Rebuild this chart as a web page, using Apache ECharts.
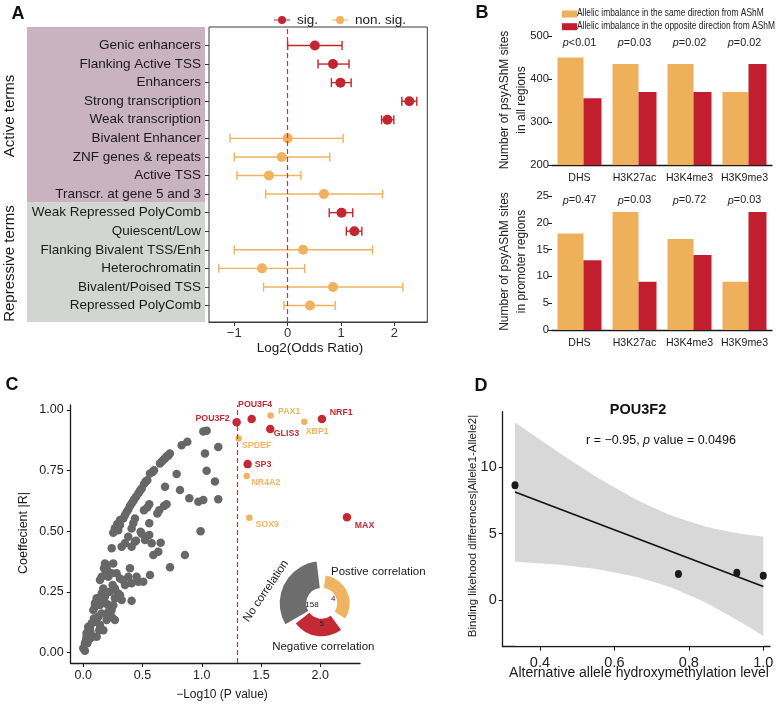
<!DOCTYPE html>
<html><head><meta charset="utf-8">
<script src="https://cdn.jsdelivr.net/npm/echarts@6/dist/echarts.min.js"></script>
<style>html,body{margin:0;padding:0;background:#fff}#c{width:777px;height:706px}</style>
</head><body><div id="c"></div>
<script>
// ---------- Panel A: chromatin state enrichment ----------
var terms = ['Genic enhancers','Flanking Active TSS','Enhancers','Strong transcription','Weak transcription',
  'Bivalent Enhancer','ZNF genes & repeats','Active TSS','Transcr. at gene 5 and 3',
  'Weak Repressed PolyComb','Quiescent/Low','Flanking Bivalent TSS/Enh','Heterochromatin','Bivalent/Poised TSS','Repressed PolyComb'];
var log2OR  = [0.51, 0.85, 0.99, 2.28, 1.87, 0.00, -0.11, -0.35, 0.68, 1.01, 1.25, 0.29, -0.48, 0.85, 0.42];
var ciLow   = [0.00, 0.57, 0.82, 2.14, 1.76, -1.08, -1.00, -0.95, -0.41, 0.78, 1.10, -1.00, -1.29, -0.45, -0.07];
var ciHigh  = [1.02, 1.15, 1.19, 2.42, 1.99, 1.04, 0.79, 0.25, 1.78, 1.22, 1.39, 1.59, 0.32, 2.16, 0.89];
var isSig   = [1,1,1,1,1,0,0,0,0,1,1,0,0,0,0];
var groupNames = ['Active terms','Repressive terms'];

// ---------- Panel B: bars ----------
var marks = ['DHS','H3K27ac','H3K4me3','H3K9me3'];
var sameAll = [450, 435, 435, 370];
var oppAll  = [355, 370, 370, 435];
var pAll    = ['<0.01','=0.03','=0.02','=0.02'];
var samePromoter = [18, 22, 17, 9];
var oppPromoter  = [13, 9, 14, 22];
var pPromoter    = ['=0.47','=0.03','=0.72','=0.03'];
var sameName = 'Allelic imbalance in the same direction from AShM';
var oppName  = 'Allelic imbalance in the opposite direction from AShM';

// ---------- Panel C: scatter ----------
var noCorrPoints = [
 [1.013,0.911],[1.041,0.915],[0.83,0.855],[0.878,0.869],[1.139,0.848],[1.027,0.821],[1.041,0.75],[1.111,0.705],
 [0.731,0.821],[0.717,0.812],[0.703,0.808],[0.689,0.8],[0.675,0.794],[0.661,0.787],[0.647,0.78],
 [0.788,0.736],[0.597,0.752],[0.585,0.745],[0.563,0.738],[0.54,0.711],
 [0.527,0.705],[0.512,0.695],[0.493,0.677],[0.478,0.667],[0.464,0.656],[0.445,0.643],[0.43,0.632],[0.422,0.625],[0.408,0.615],[0.394,0.604],
 [0.69,0.684],[0.816,0.67],[0.895,0.636],[0.971,0.622],[1.013,0.629],[1.139,0.632],
 [0.703,0.612],[0.681,0.604],[0.557,0.612],[0.54,0.598],[0.512,0.587],[0.641,0.587],[0.625,0.574],
 [0.38,0.59],[0.366,0.58],[0.352,0.567],[0.338,0.553],[0.31,0.526],[0.295,0.505],
 [0.436,0.553],[0.422,0.533],[0.408,0.512],[0.557,0.533],[0.99,0.5],[0.484,0.498],
 [0.31,0.547],[0.287,0.53],[0.267,0.513],[0.253,0.494],[0.445,0.461],[0.557,0.485],[0.577,0.451],[0.653,0.453],
 [0.38,0.478],[0.352,0.451],[0.324,0.437],[0.24,0.43],[0.493,0.49],
 [0.408,0.437],[0.436,0.457],[0.521,0.464],[0.633,0.416],[0.591,0.403],[0.858,0.403],[0.732,0.352],
 [0.183,0.368],[0.253,0.368],[0.197,0.348],[0.155,0.313],[0.211,0.313],[0.239,0.327],[0.281,0.327],[0.31,0.306],
 [0.338,0.299],[0.38,0.313],[0.394,0.348],[0.45,0.313],[0.464,0.292],[0.506,0.292],[0.563,0.32],[0.408,0.286],
 [0.169,0.265],[0.155,0.244],[0.183,0.231],[0.225,0.251],[0.248,0.279],[0.267,0.265],[0.295,0.244],[0.324,0.217],
 [0.408,0.214],[0.267,0.224],[0.169,0.21],[0.203,0.2],[0.225,0.189],[0.211,0.169],[0.239,0.176],[0.253,0.196],
 [0.267,0.135],[0.197,0.135],[0.169,0.093],[0.099,0.189],[0.085,0.176],[0.127,0.148],[0.113,0.128],[0.09,0.141],
 [0.071,0.121],[0.057,0.107],[0.042,0.093],[0.062,0.08],[0.079,0.066],[0.028,0.066],[0.042,0.052],[0.014,0.039],
 [0.0,0.018],[0.014,0.008],[0.135,0.093],[0.141,0.114],[0.113,0.066],[0.155,0.162],[0.31,0.237],[0.352,0.279],
 [0.191,0.327],[0.057,0.093],[0.028,0.08],[0.197,0.361],[0.175,0.348],[0.141,0.3],[0.113,0.224],[0.099,0.204],
 [0.141,0.197],[0.24,0.148],[0.211,0.155],[0.057,0.059],[0.023,0.052],[0.034,0.039],[0.042,0.107]
];
var tfNames = ['POU3F2','POU3F4','PAX1','NRF1','GLIS3','XBP1','SPDEF','SP3','NR4A2','SOX9','MAX'];
var tfLogP  = [1.294, 1.421, 1.581, 2.014, 1.578, 1.865, 1.311, 1.387, 1.379, 1.401, 2.225];
var tfAbsR  = [0.950, 0.963, 0.977, 0.963, 0.922, 0.952, 0.883, 0.777, 0.728, 0.556, 0.558];
var tfNeg   = [1, 1, 0, 1, 1, 0, 0, 1, 0, 0, 1];
var pCut = 1.301; // -log10(0.05)
var corrCats = ['No correlation','Postive correlation','Negative correlation'];
var corrCounts = [158, 4, 5];

// ---------- Panel D: regression ----------
var hmLevel = [0.333, 0.772, 0.929, 1.0];
var bindDiff = [8.65, 1.95, 2.05, 1.82];
var fitX = [0.333, 1.0];
var fitY = [8.13, 1.02];
var bandX  = [0.333, 0.4, 0.5, 0.6, 0.7, 0.8, 0.9, 1.0];
var bandLo = [2.88, 2.76, 2.50, 2.08, 1.41, 0.37, -1.04, -2.72];
var bandHi = [13.40, 12.10, 10.22, 8.50, 7.03, 5.93, 5.20, 4.78];

// ---------- styling ----------
var RED = '#c2272f', ORANGE = '#f0b25e';
var BRED = '#c21f2e', BORANGE = '#efb05c';
var CRED = '#c42a35', CORANGE = '#eeb461';
var FONT = "'Liberation Sans', Arial, Helvetica, sans-serif";
var INK = '#1a1a1a';
var DYMIN = -3.52;

var tfLabelPos = {
  POU3F2:[-2.7,1,'right'], POU3F4:[-9.4,-10,'left'], PAX1:[10.6,-1,'left'], NRF1:[12,-1.7,'left'],
  GLIS3:[7.7,9.3,'left'], XBP1:[4.7,13,'left'], SPDEF:[6.6,10.4,'left'], SP3:[11.3,4.3,'left'],
  NR4A2:[8,10.3,'left'], SOX9:[9.4,10.3,'left'], MAX:[12,12.4,'left']
};

function tfData(neg) {
  var out = [];
  for (var i = 0; i < tfNames.length; i++) {
    if (tfNeg[i] !== neg) continue;
    var lp = tfLabelPos[tfNames[i]];
    out.push({name: tfNames[i], value: [tfLogP[i], tfAbsR[i]],
      label: {show: true, formatter: '{b}', position: [lp[0], lp[1]], align: lp[2], verticalAlign: 'middle',
        color: neg ? CRED : CORANGE, fontSize: 8.8, fontWeight: 'bold', fontFamily: FONT}});
  }
  return out;
}

var blackAxis = {onZero: false, lineStyle: {color: INK, width: 1.3}};
function pLabel(v) { return '{i|p}{n|' + v + '}'; }
var pRich = {i: {fontStyle: 'italic', fontSize: 10.8, color: '#222', fontFamily: FONT}, n: {fontSize: 10.8, color: '#222', fontFamily: FONT}};

var chart = echarts.init(document.getElementById('c'), null, {width: 777, height: 706});

var option = {
  animation: false,
  textStyle: {fontFamily: FONT},
  grid: [
    {left: 209, top: 36.2, width: 218.3, height: 278.6, outerBoundsMode: 'none'},
    {left: 209, top: 27, width: 218.3, height: 295, show: true, borderColor: '#3a3a3a', borderWidth: 1, outerBoundsMode: 'none'},
    {left: 552, top: 36, width: 220, height: 129, outerBoundsMode: 'none'},
    {left: 552, top: 196, width: 220, height: 134, outerBoundsMode: 'none'},
    {left: 70.7, top: 410, width: 289.3, height: 242.7, outerBoundsMode: 'none'},
    {left: 70.7, top: 405, width: 289.3, height: 258, outerBoundsMode: 'none'},
    {left: 502.7, top: 411.7, width: 267.3, height: 235, outerBoundsMode: 'none'}
  ],
  legend: [
    {data: ['sig.', 'non. sig.'], left: 269, top: 8, itemWidth: 20, itemHeight: 8, itemGap: 14,
     icon: 'path://M0,9 L40,9 L40,11 L0,11 Z M20,0 A10,10 0 1,1 19.99,0 Z',
     textStyle: {fontSize: 13.5, color: '#222', fontFamily: FONT}},
    {data: [sameName, oppName], left: 557, top: 5.5, orient: 'vertical', icon: 'rect',
     itemWidth: 15, itemHeight: 7, itemGap: 5.7, formatter: function () { return ''; },
     textStyle: {fontSize: 1}}
  ],
  xAxis: [
    {gridIndex: 0, type: 'value', min: -1.473, max: 2.617, show: false},
    {gridIndex: 1, type: 'value', min: -1.473, max: 2.617, splitNumber: 4,
     axisLine: {show: true, onZero: false, lineStyle: {color: '#3a3a3a', width: 1}}, axisTick: {show: true, length: 4, lineStyle: {color: '#3a3a3a'}},
     axisLabel: {showMinLabel: false, showMaxLabel: false, fontSize: 13, color: '#333', margin: 5,
       formatter: function (v) { return v < 0 ? '\u2212' + Math.abs(v) : String(v); }},
     splitLine: {show: false}},
    {gridIndex: 2, type: 'category', data: marks, axisLine: blackAxis, axisTick: {show: false},
     axisLabel: {interval: 0, fontSize: 10.6, color: INK, margin: 7.5}},
    {gridIndex: 2, type: 'category', data: pAll, position: 'top', axisLine: {show: false}, axisTick: {show: false},
     axisLabel: {interval: 0, inside: true, margin: 1.5, formatter: pLabel, rich: pRich}},
    {gridIndex: 3, type: 'category', data: marks, axisLine: blackAxis, axisTick: {show: false},
     axisLabel: {interval: 0, fontSize: 10.6, color: INK, margin: 7.5}},
    {gridIndex: 3, type: 'category', data: pPromoter, position: 'top', axisLine: {show: false}, axisTick: {show: false},
     axisLabel: {interval: 0, inside: true, margin: -1, formatter: pLabel, rich: pRich}},
    {gridIndex: 4, type: 'value', min: -0.106, max: 2.335, show: false},
    {gridIndex: 5, type: 'value', min: -0.106, max: 2.335, splitNumber: 5,
     axisLine: blackAxis, axisTick: {show: true, length: 4, lineStyle: {color: INK}},
     axisLabel: {showMinLabel: false, showMaxLabel: false, fontSize: 12.5, color: '#222', margin: 6,
       formatter: function (v) { return v.toFixed(1); }}, splitLine: {show: false}},
    {gridIndex: 6, type: 'value', min: 0.3, max: 1.018, splitNumber: 4,
     axisLine: blackAxis, axisTick: {show: true, length: 4, lineStyle: {color: INK}},
     axisLabel: {showMinLabel: false, showMaxLabel: false, fontSize: 14.5, color: '#222', margin: 9,
       formatter: function (v) { return v.toFixed(1); }}, splitLine: {show: false}}
  ],
  yAxis: [
    {gridIndex: 0, type: 'category', data: terms, inverse: true, axisLine: {show: false, onZero: false},
     axisTick: {show: true, alignWithLabel: true, length: 4, lineStyle: {color: '#3a3a3a'}},
     axisLabel: {interval: 0, fontSize: 13.5, color: INK, margin: 8}},
    {gridIndex: 1, type: 'value', show: false, min: 0, max: 1, axisLine: {onZero: false}},
    {gridIndex: 2, type: 'value', min: 200, max: 500, interval: 100, axisLine: blackAxis,
     axisTick: {show: true, length: 4, lineStyle: {color: INK}}, axisLabel: {fontSize: 11.2, color: '#222', margin: 3}, splitLine: {show: false}},
    {gridIndex: 3, type: 'value', min: 0, max: 25, interval: 5, axisLine: blackAxis,
     axisTick: {show: true, length: 4, lineStyle: {color: INK}}, axisLabel: {fontSize: 11.2, color: '#222', margin: 3}, splitLine: {show: false}},
    {gridIndex: 4, type: 'value', min: 0, max: 1, interval: 0.25, axisLine: {show: false, onZero: false},
     axisTick: {show: true, length: 4, lineStyle: {color: INK}},
     axisLabel: {fontSize: 12.5, color: '#222', margin: 7, formatter: function (v) { return v.toFixed(2); }}, splitLine: {show: false}},
    {gridIndex: 5, type: 'value', min: -0.043, max: 1.02, axisLine: blackAxis, axisTick: {show: false}, axisLabel: {show: false}, splitLine: {show: false}},
    {gridIndex: 6, type: 'value', min: DYMIN, max: 14.19, splitNumber: 4, axisLine: blackAxis,
     axisTick: {show: true, length: 4, lineStyle: {color: INK}},
     axisLabel: {showMinLabel: false, showMaxLabel: false, fontSize: 14.5, color: '#222', margin: 6}, splitLine: {show: false}}
  ],
  series: [
    {type: 'line', xAxisIndex: 1, yAxisIndex: 1, data: [], silent: true,
     markLine: {silent: true, symbol: 'none', label: {show: false},
       lineStyle: {color: '#e8262b', type: [5, 3], width: 1.2}, data: [{xAxis: 0}]}},
    {type: 'custom', xAxisIndex: 0, yAxisIndex: 0, silent: true,
     encode: {x: [0, 1], y: 2},
     data: terms.map(function (t, i) { return [ciLow[i], ciHigh[i], i, isSig[i]]; }),
     renderItem: function (params, api) {
       var p1 = api.coord([api.value(0), api.value(2)]);
       var p2 = api.coord([api.value(1), api.value(2)]);
       var c = api.value(3) ? RED : ORANGE, h = 4.5;
       var st = {stroke: c, lineWidth: 1.4};
       return {type: 'group', children: [
         {type: 'line', shape: {x1: p1[0], y1: p1[1], x2: p2[0], y2: p2[1]}, style: st},
         {type: 'line', shape: {x1: p1[0], y1: p1[1] - h, x2: p1[0], y2: p1[1] + h}, style: st},
         {type: 'line', shape: {x1: p2[0], y1: p2[1] - h, x2: p2[0], y2: p2[1] + h}, style: st}
       ]};
     }},
    {name: 'sig.', type: 'scatter', xAxisIndex: 0, yAxisIndex: 0, symbolSize: 10, itemStyle: {color: RED, opacity: 1},
     data: terms.map(function (t, i) { return isSig[i] ? [log2OR[i], i] : null; }).filter(Boolean)},
    {name: 'non. sig.', type: 'scatter', xAxisIndex: 0, yAxisIndex: 0, symbolSize: 10, itemStyle: {color: ORANGE, opacity: 1},
     data: terms.map(function (t, i) { return !isSig[i] ? [log2OR[i], i] : null; }).filter(Boolean)},
    {name: sameName, type: 'bar', xAxisIndex: 2, yAxisIndex: 2, data: sameAll, barWidth: 26, barGap: '0%', itemStyle: {color: BORANGE}},
    {name: oppName, type: 'bar', xAxisIndex: 2, yAxisIndex: 2, data: oppAll, barWidth: 18, barGap: '0%', itemStyle: {color: BRED}},
    {name: sameName, type: 'bar', xAxisIndex: 4, yAxisIndex: 3, data: samePromoter, barWidth: 26, barGap: '0%', itemStyle: {color: BORANGE}},
    {name: oppName, type: 'bar', xAxisIndex: 4, yAxisIndex: 3, data: oppPromoter, barWidth: 18, barGap: '0%', itemStyle: {color: BRED}},
    {type: 'line', xAxisIndex: 7, yAxisIndex: 5, data: [], silent: true,
     markLine: {silent: true, symbol: 'none', label: {show: false},
       lineStyle: {color: '#e8262b', type: [5, 3], width: 1.2}, data: [{xAxis: pCut}]}},
    {type: 'scatter', xAxisIndex: 6, yAxisIndex: 4, clip: false, symbolSize: 8.5, data: noCorrPoints,
     itemStyle: {color: '#676767', opacity: 1}, silent: true},
    {type: 'scatter', xAxisIndex: 6, yAxisIndex: 4, clip: false, symbolSize: 6.5, data: tfData(0),
     itemStyle: {color: CORANGE, opacity: 1}, silent: true},
    {type: 'scatter', xAxisIndex: 6, yAxisIndex: 4, clip: false, symbolSize: 8.5, data: tfData(1),
     itemStyle: {color: CRED, opacity: 1}, silent: true},
    {type: 'pie', center: [321.7, 603.3], radius: [15.5, 42], startAngle: 210, endAngle: 97, silent: true,
     label: {show: false}, labelLine: {show: false}, itemStyle: {color: '#6d6d6d'},
     data: [{name: corrCats[0], value: corrCounts[0]}]},
    {type: 'pie', center: [321.7, 603.3], radius: [15.5, 28], startAngle: 82, endAngle: -33, silent: true,
     label: {show: false}, labelLine: {show: false}, itemStyle: {color: CORANGE},
     data: [{name: corrCats[1], value: corrCounts[1]}]},
    {type: 'pie', center: [321.7, 603.3], radius: [15.5, 33], startAngle: -54, endAngle: -142, silent: true,
     label: {show: false}, labelLine: {show: false}, itemStyle: {color: CRED},
     data: [{name: corrCats[2], value: corrCounts[2]}]},
    // Panel D: confidence band = grey area under upper bound, white area under lower bound
    {type: 'line', xAxisIndex: 8, yAxisIndex: 6, smooth: true, symbol: 'none', silent: true, z: 1,
     lineStyle: {opacity: 0}, areaStyle: {color: '#d8d8d8', opacity: 1, origin: DYMIN + 0.08},
     data: bandX.map(function (x, i) { return [x, bandHi[i]]; })},
    {type: 'line', xAxisIndex: 8, yAxisIndex: 6, smooth: true, symbol: 'none', silent: true, z: 1,
     lineStyle: {opacity: 0}, areaStyle: {color: '#ffffff', opacity: 1, origin: DYMIN + 0.08},
     data: bandX.map(function (x, i) { return [x, bandLo[i]]; })},
    {type: 'line', xAxisIndex: 8, yAxisIndex: 6, symbol: 'none', silent: true, z: 4, lineStyle: {color: '#111', width: 1.6},
     data: fitX.map(function (x, i) { return [x, fitY[i]]; })},
    {type: 'scatter', xAxisIndex: 8, yAxisIndex: 6, symbolSize: [7, 8], clip: false, silent: true, z: 5,
     itemStyle: {color: '#1a1a1a', opacity: 1},
     data: hmLevel.map(function (x, i) { return [x, bindDiff[i]]; })}
  ],
  graphic: [
    {type: 'rect', z: -100, shape: {x: 27, y: 27, width: 178, height: 175.5}, style: {fill: '#c9b3c1'}},
    {type: 'rect', z: -100, shape: {x: 27, y: 202.5, width: 178, height: 119.5}, style: {fill: '#d3d5d3'}},
    {type: 'text', x: 18, y: 14, style: {text: 'A', fontSize: 18, fontWeight: 'bold', fill: '#111', fontFamily: FONT, align: 'center', verticalAlign: 'middle'}},
    {type: 'text', x: 482, y: 13, style: {text: 'B', fontSize: 18, fontWeight: 'bold', fill: '#111', fontFamily: FONT, align: 'center', verticalAlign: 'middle'}},
    {type: 'text', x: 12, y: 385, style: {text: 'C', fontSize: 18, fontWeight: 'bold', fill: '#111', fontFamily: FONT, align: 'center', verticalAlign: 'middle'}},
    {type: 'text', x: 481, y: 386, style: {text: 'D', fontSize: 18, fontWeight: 'bold', fill: '#111', fontFamily: FONT, align: 'center', verticalAlign: 'middle'}},
    {type: 'text', x: 10, y: 116, rotation: Math.PI / 2, style: {text: groupNames[0], fontSize: 15, fill: INK, fontFamily: FONT, align: 'center', verticalAlign: 'middle'}},
    {type: 'text', x: 10, y: 263.5, rotation: Math.PI / 2, style: {text: groupNames[1], fontSize: 15, fill: INK, fontFamily: FONT, align: 'center', verticalAlign: 'middle'}},
    {type: 'text', x: 310, y: 348.5, style: {text: 'Log2(Odds Ratio)', fontSize: 13.5, fill: INK, fontFamily: FONT, align: 'center', verticalAlign: 'middle'}},
    {type: 'text', x: 577, y: 13.3, scaleX: 0.8, style: {text: sameName, fontSize: 10.5, fill: '#222', fontFamily: FONT, align: 'left', verticalAlign: 'middle'}},
    {type: 'text', x: 577, y: 26, scaleX: 0.8, style: {text: oppName, fontSize: 10.5, fill: '#222', fontFamily: FONT, align: 'left', verticalAlign: 'middle'}},
    {type: 'text', x: 513.5, y: 100, rotation: Math.PI / 2, style: {text: 'Number of psyAShM sites\nin all regions', fontSize: 12, lineHeight: 17, fill: '#222', fontFamily: FONT, align: 'center', verticalAlign: 'middle'}},
    {type: 'text', x: 513.5, y: 261.5, rotation: Math.PI / 2, style: {text: 'Number of psyAShM sites\nin promoter regions', fontSize: 12, lineHeight: 17, fill: '#222', fontFamily: FONT, align: 'center', verticalAlign: 'middle'}},
    {type: 'text', x: 24, y: 533, rotation: Math.PI / 2, style: {text: 'Coeffecient |R|', fontSize: 12.5, fill: INK, fontFamily: FONT, align: 'center', verticalAlign: 'middle'}},
    {type: 'text', x: 222, y: 695, style: {text: '\u2212Log10 (P value)', fontSize: 12, fill: INK, fontFamily: FONT, align: 'center', verticalAlign: 'middle'}},
    {type: 'text', x: 266, y: 591, rotation: 56 * Math.PI / 180, style: {text: corrCats[0], fontSize: 11.5, fill: INK, fontFamily: FONT, align: 'center', verticalAlign: 'middle'}},
    {type: 'text', x: 331, y: 572, style: {text: corrCats[1], fontSize: 11.5, fill: INK, fontFamily: FONT, align: 'left', verticalAlign: 'middle'}},
    {type: 'text', x: 323.3, y: 647, style: {text: corrCats[2], fontSize: 11.5, fill: INK, fontFamily: FONT, align: 'center', verticalAlign: 'middle'}},
    {type: 'text', x: 312, y: 604.3, zlevel: 1, style: {text: String(corrCounts[0]), fontSize: 8, fill: '#222', fontFamily: FONT, align: 'center', verticalAlign: 'middle'}},
    {type: 'text', x: 333.3, y: 598.3, zlevel: 1, style: {text: String(corrCounts[1]), fontSize: 8, fill: '#222', fontFamily: FONT, align: 'center', verticalAlign: 'middle'}},
    {type: 'text', x: 321.7, y: 623.3, zlevel: 1, style: {text: String(corrCounts[2]), fontSize: 8, fill: '#222', fontFamily: FONT, align: 'center', verticalAlign: 'middle'}},
    {type: 'text', x: 638, y: 410, style: {text: 'POU3F2', fontSize: 14.5, fontWeight: 'bold', fill: '#111', fontFamily: FONT, align: 'center', verticalAlign: 'middle'}},
    {type: 'text', x: 661, y: 441, style: {text: '{n|r = \u22120.95, }{i|p}{n| value = 0.0496}', align: 'center', verticalAlign: 'middle',
      rich: {n: {fontSize: 12.5, fill: '#111', fontFamily: FONT}, i: {fontSize: 12.5, fontStyle: 'italic', fill: '#111', fontFamily: FONT}}}},
    {type: 'text', x: 473, y: 526, rotation: Math.PI / 2, style: {text: 'Binding likehood differences|Allele1-Allele2|', fontSize: 11.5, fill: INK, fontFamily: FONT, align: 'center', verticalAlign: 'middle'}},
    {type: 'text', x: 639, y: 673, style: {text: 'Alternative allele hydroxymethylation level', fontSize: 14, fill: INK, fontFamily: FONT, align: 'center', verticalAlign: 'middle'}}
  ]
};
chart.setOption(option);
</script>
</body></html>
